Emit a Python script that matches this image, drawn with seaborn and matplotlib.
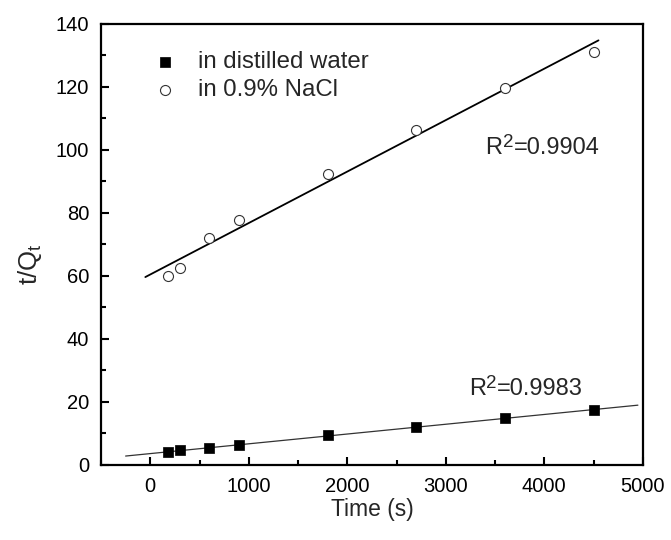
import numpy as np
import pandas as pd
import matplotlib
matplotlib.use("Agg")
import matplotlib.pyplot as plt
import seaborn as sns
from matplotlib.ticker import MultipleLocator

# ---- data ----
time_s = [180, 300, 600, 900, 1800, 2700, 3600, 4500]
distilled = [4.0, 4.7, 5.4, 6.2, 9.4, 12.2, 14.8, 17.4]
nacl = [60.0, 62.4, 72.2, 77.8, 92.3, 106.3, 119.8, 131.1]
series_names = ["in distilled water", "in 0.9% NaCl"]
r2_values = ["=0.9983", "=0.9904"]
x_ticks = [0, 1000, 2000, 3000, 4000, 5000]
y_ticks = [0, 20, 40, 60, 80, 100, 120, 140]

sns.set_theme(style="ticks")
plt.rcParams["font.family"] = ["Liberation Sans", "DejaVu Sans"]
plt.rcParams["mathtext.fontset"] = "custom"
plt.rcParams["mathtext.rm"] = "Liberation Sans"
plt.rcParams["mathtext.it"] = "Liberation Sans"

fig = plt.figure(figsize=(6.71, 5.40), dpi=100)
ax = fig.add_axes([0.1505, 0.139, 0.958 - 0.1505, 0.9556 - 0.139])

df_w = pd.DataFrame({"Time": time_s, "val": distilled})
df_n = pd.DataFrame({"Time": time_s, "val": nacl})

# linear fits
kw, bw = np.polyfit(time_s, distilled, 1)
kn, bn = np.polyfit(time_s, nacl, 1)
xw = np.array([-250, 4950])
xn = np.array([-50, 4550])
sns.lineplot(x=xw, y=kw * xw + bw, ax=ax, color="#333333", lw=0.9, zorder=2)
sns.lineplot(x=xn, y=kn * xn + bn, ax=ax, color="black", lw=1.3, zorder=2)

sns.scatterplot(data=df_w, x="Time", y="val", ax=ax, marker="s", s=42,
                color="black", edgecolor="black", linewidth=0.5, zorder=3,
                label=series_names[0])
sns.scatterplot(data=df_n, x="Time", y="val", ax=ax, marker="o", s=52,
                facecolor="white", edgecolor="#333333", linewidth=0.8, zorder=3,
                label=series_names[1])

ax.set_xlim(-500, 5000)
ax.set_ylim(0, 140)
ax.set_xticks(x_ticks)
ax.set_yticks(y_ticks)
ax.xaxis.set_minor_locator(MultipleLocator(500))
ax.yaxis.set_minor_locator(MultipleLocator(10))
ax.tick_params(which="both", direction="in", width=1.5, labelsize=14.5,
               top=False, right=False, colors="black", pad=8.5)
ax.tick_params(which="major", length=6)
ax.tick_params(which="minor", length=3.5)
for sp in ax.spines.values():
    sp.set_visible(True)
    sp.set_linewidth(1.6)
    sp.set_color("black")

ax.set_xlabel("Time (s)", fontsize=16.5)
ax.xaxis.set_label_coords(0.5, -0.076)
ax.set_ylabel("t/Q$_\\mathregular{t}$", fontsize=18.5)
ax.yaxis.set_label_coords(-0.105, 0.455)

leg = ax.legend(loc="upper left", bbox_to_anchor=(0.078, 0.96), frameon=False,
                fontsize=17.3, handletextpad=0.87, handlelength=1.0,
                labelspacing=0.25, markerscale=1.0, borderaxespad=0)


def r2_text(x, y, value):
    t1 = ax.text(x, y, "R", fontsize=17, ha="left", va="baseline")
    t2 = ax.annotate("2", xy=(1, 0), xycoords=t1, xytext=(0.3, 5.5),
                     textcoords="offset points", fontsize=13.5,
                     ha="left", va="bottom")
    ax.annotate(value, xy=(1, 0), xycoords=(t2, t1), xytext=(0.3, 0),
                textcoords="offset points", fontsize=17,
                ha="left", va="bottom")


r2_text(3400, 98.8, r2_values[1])
r2_text(3232, 22.2, r2_values[0])

fig.savefig("out.png", dpi=100)
